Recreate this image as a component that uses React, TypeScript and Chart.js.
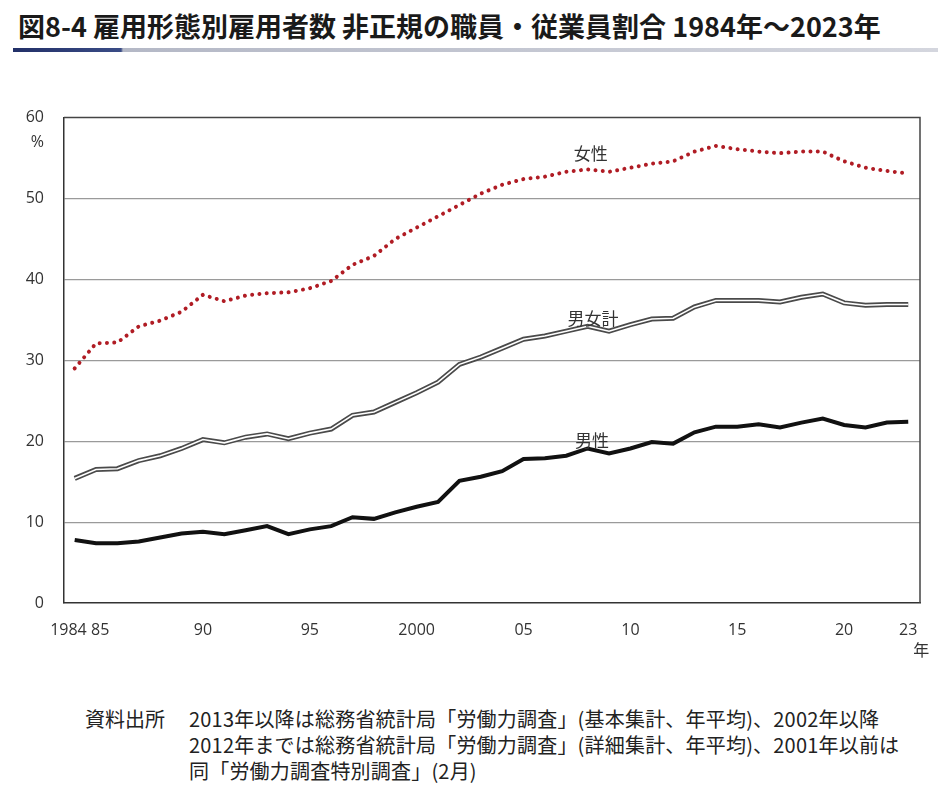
import React, { useEffect, useRef } from "react";
import { Chart, registerables } from "chart.js";

Chart.register(...registerables);

const YEARS = [
  1984, 1985, 1986, 1987, 1988, 1989, 1990, 1991, 1992, 1993,
  1994, 1995, 1996, 1997, 1998, 1999, 2000, 2001, 2002, 2003,
  2004, 2005, 2006, 2007, 2008, 2009, 2010, 2011, 2012, 2013,
  2014, 2015, 2016, 2017, 2018, 2019, 2020, 2021, 2022, 2023,
];

const FEMALE = [
  29.0, 32.1, 32.2, 34.2, 34.9, 36.0, 38.1, 37.3, 38.0, 38.3,
  38.4, 38.9, 39.8, 41.8, 42.9, 45.0, 46.4, 47.8, 49.2, 50.6,
  51.7, 52.4, 52.7, 53.3, 53.6, 53.3, 53.8, 54.3, 54.6, 55.8,
  56.5, 56.1, 55.8, 55.6, 55.8, 55.8, 54.6, 53.8, 53.4, 53.1,
];

const TOTAL = [
  15.4, 16.5, 16.6, 17.6, 18.2, 19.1, 20.2, 19.8, 20.5, 20.9,
  20.3, 21.0, 21.5, 23.2, 23.6, 24.8, 26.0, 27.3, 29.5, 30.4,
  31.5, 32.6, 33.0, 33.6, 34.2, 33.6, 34.4, 35.1, 35.2, 36.6,
  37.4, 37.4, 37.4, 37.2, 37.8, 38.2, 37.1, 36.8, 36.9, 36.9,
];

const MALE = [
  7.8, 7.4, 7.4, 7.6, 8.1, 8.6, 8.8, 8.5, 9.0, 9.5,
  8.5, 9.1, 9.5, 10.6, 10.4, 11.2, 11.9, 12.5, 15.1, 15.6,
  16.3, 17.8, 17.9, 18.2, 19.1, 18.5, 19.1, 19.9, 19.7, 21.1,
  21.8, 21.8, 22.1, 21.7, 22.3, 22.8, 22.0, 21.7, 22.3, 22.4,
];

const X_TICK_VALUES = [1984, 1985, 1990, 1995, 2000, 2005, 2010, 2015, 2020, 2023];
const X_TICK_LABELS = ["1984   ", "  85", "90", "95", "2000", "05", "10", "15", "20", "23"];
const Y_TICK_VALUES = [0, 10, 20, 30, 40, 50, 60];

const TITLE = "図8-4 雇用形態別雇用者数 非正規の職員・従業員割合 1984年～2023年";
const SOURCE_HEAD = "資料出所";
const SOURCE_LINES = [
  "2013年以降は総務省統計局「労働力調査」(基本集計、年平均)、2002年以降",
  "2012年までは総務省統計局「労働力調査」(詳細集計、年平均)、2001年以前は",
  "同「労働力調査特別調査」(2月)",
];

const SERIES_LABELS = [
  { text: "女性", year: 2008.15, value: 55.6 },
  { text: "男女計", year: 2008.25, value: 35.1 },
  { text: "男性", year: 2008.2, value: 20.1 },
];

const FONT_NUM = "'Open Sans', 'Noto Sans CJK JP', sans-serif";
const FONT_JP = "'Noto Sans CJK JP', 'Noto Sans', sans-serif";

const toPoints = (vals: number[]) => vals.map((v, i) => ({ x: YEARS[i], y: v }));

export default function App() {
  const canvasRef = useRef<HTMLCanvasElement | null>(null);

  useEffect(() => {
    document.body.style.margin = "0";
    const canvas = canvasRef.current;
    if (!canvas) return;

    const decor = {
      id: "decor",
      beforeDatasetsDraw(chart: any) {
        const { ctx, chartArea: a } = chart;
        ctx.save();
        ctx.strokeStyle = "#444";
        ctx.lineWidth = 1.5;
        ctx.beginPath();
        ctx.moveTo(a.left, a.top);
        ctx.lineTo(a.right, a.top);
        ctx.lineTo(a.right, a.bottom);
        ctx.stroke();
        ctx.restore();
      },
      afterDraw(chart: any) {
        const { ctx } = chart;
        const xs = chart.scales.x;
        const ys = chart.scales.y;
        ctx.save();
        ctx.fillStyle = "#333";
        ctx.textBaseline = "middle";
        ctx.textAlign = "center";
        ctx.font = `17px ${FONT_JP}`;
        for (const l of SERIES_LABELS) {
          ctx.fillText(l.text, xs.getPixelForValue(l.year), ys.getPixelForValue(l.value));
        }
        ctx.font = `16px ${FONT_NUM}`;
        ctx.fillStyle = "#333";
        ctx.textAlign = "right";
        ctx.fillText("%", ys.right - 20, ys.getPixelForValue(60) + 25);
        ctx.textAlign = "center";
        ctx.font = `16px ${FONT_JP}`;
        ctx.fillText("年", xs.getPixelForValue(2023) + 13, xs.top + 47);
        ctx.restore();
      },
    };

    const chart = new Chart(canvas, {
      type: "line",
      data: {
        datasets: [
          {
            label: "女性",
            data: toPoints(FEMALE),
            borderColor: "#b01c24",
            borderWidth: 4,
            borderDash: [0.01, 7.3],
            borderCapStyle: "round",
            pointRadius: 0,
            tension: 0,
            order: 0,
          },
          {
            label: "男女計(内)",
            data: toPoints(TOTAL),
            borderColor: "#ffffff",
            borderWidth: 1.6,
            pointRadius: 0,
            tension: 0,
            order: 1,
          },
          {
            label: "男女計",
            data: toPoints(TOTAL),
            borderColor: "#4a4a4a",
            borderWidth: 5,
            pointRadius: 0,
            tension: 0,
            order: 2,
          },
          {
            label: "男性",
            data: toPoints(MALE),
            borderColor: "#111111",
            borderWidth: 4,
            pointRadius: 0,
            tension: 0,
            order: 3,
          },
        ],
      },
      options: {
        animation: false,
        responsive: true,
        maintainAspectRatio: false,
        layout: { padding: { top: 4, right: 18, left: 0, bottom: 0 } },
        plugins: {
          legend: { display: false },
          tooltip: { enabled: false },
          title: { display: false },
        },
        scales: {
          x: {
            type: "linear",
            min: 1983.5,
            max: 2023.55,
            afterBuildTicks: (scale: any) => {
              scale.ticks = X_TICK_VALUES.map((v) => ({ value: v }));
            },
            afterFit: (scale: any) => {
              scale.height = 57;
            },
            grid: { display: false, drawTicks: false },
            border: { display: true, color: "#333", width: 1.5 },
            ticks: {
              autoSkip: false,
              maxRotation: 0,
              padding: 18,
              color: "#333",
              font: { family: FONT_NUM, size: 16 },
              callback: (value: any) => {
                const i = X_TICK_VALUES.indexOf(Number(value));
                return i >= 0 ? X_TICK_LABELS[i] : "";
              },
            },
          },
          y: {
            min: 0,
            max: 60,
            afterBuildTicks: (scale: any) => {
              scale.ticks = Y_TICK_VALUES.map((v) => ({ value: v }));
            },
            afterFit: (scale: any) => {
              scale.width = 64;
            },
            grid: {
              drawTicks: false,
              color: (c: any) => (c.tick && (c.tick.value === 0 || c.tick.value === 60) ? "rgba(0,0,0,0)" : "#9a9a9a"),
              lineWidth: 1.2,
            },
            border: { display: true, color: "#333", width: 1.5 },
            ticks: {
              padding: 20,
              color: "#333",
              font: { family: FONT_NUM, size: 16 },
              callback: (value: any) => String(value),
            },
          },
        },
      },
      plugins: [decor],
    } as any);

    return () => chart.destroy();
  }, []);

  return (
    <div
      style={{
        position: "absolute",
        left: 0,
        top: 0,
        width: 938,
        height: 796,
        background: "#fff",
        overflow: "hidden",
      }}
    >
      <div
        style={{
          position: "absolute",
          left: 18,
          top: 8,
          fontFamily: FONT_JP,
          fontWeight: 700,
          fontSize: 27,
          lineHeight: "36px",
          color: "#1a1a1a",
          whiteSpace: "nowrap",
          letterSpacing: "0px",
        }}
      >
        {TITLE}
      </div>
      <div
        style={{
          position: "absolute",
          left: 13,
          top: 48,
          width: 925,
          height: 4,
          background:
            "linear-gradient(to right, #223068 0px, #3a4c86 108px, #b4b8c6 110px, #d4d6de 100%)",
        }}
      />
      <div style={{ position: "absolute", left: 0, top: 88, width: 938, height: 572 }}>
        <canvas ref={canvasRef} />
      </div>
      <div
        style={{
          position: "absolute",
          left: 85,
          top: 706,
          fontFamily: FONT_JP,
          fontSize: 20,
          lineHeight: "26px",
          color: "#222",
          whiteSpace: "nowrap",
        }}
      >
        {SOURCE_HEAD}
      </div>
      <div
        style={{
          position: "absolute",
          left: 189,
          top: 706,
          fontFamily: FONT_JP,
          fontSize: 20,
          lineHeight: "26px",
          color: "#222",
          whiteSpace: "nowrap",
          letterSpacing: "0.2px",
        }}
      >
        {SOURCE_LINES.map((l, i) => (
          <div key={i}>{l}</div>
        ))}
      </div>
    </div>
  );
}
